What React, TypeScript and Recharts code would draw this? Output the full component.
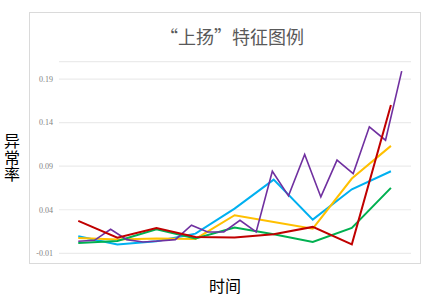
import { LineChart, Line, XAxis, YAxis, CartesianGrid } from 'recharts'

// time positions: four series share 9 points, the purple one has 21
const timeShort = [0, 29, 58, 87, 116, 145, 174, 203, 232]
const timeLong = [0, 12, 24, 36, 48, 60, 72, 84, 96, 108, 120, 132, 144, 156, 168, 180, 192, 204, 216, 228, 240]

const redValues = [0.0272, 0.008, 0.0191, 0.0088, 0.008, 0.0118, 0.0203, 0.0003, 0.1601]
const yellowValues = [0.0076, 0.0057, 0.0069, 0.0065, 0.0337, 0.026, 0.0183, 0.0758, 0.1133]
const blueValues = [0.0095, 0.0, 0.0038, 0.0126, 0.0413, 0.0746, 0.0287, 0.0635, 0.0842]
const greenValues = [0.0019, 0.0042, 0.0176, 0.0069, 0.0195, 0.0118, 0.003, 0.0191, 0.0651]
const purpleValues = [
  0.0038, 0.0049, 0.0176, 0.0057, 0.003, 0.0042, 0.0057, 0.0222, 0.0145, 0.0145, 0.0279,
  0.0145, 0.0842, 0.0559, 0.1034, 0.0547, 0.0969, 0.0815, 0.1352, 0.1198, 0.1991,
]

const yTicks = [-0.01, 0.04, 0.09, 0.14, 0.19]

const toPoints = (xs: number[], ys: number[]) => xs.map((x, i) => ({ x, v: ys[i] }))

const series = [
  { name: 'blue', color: '#00b0f0', width: 2, data: toPoints(timeShort, blueValues) },
  { name: 'yellow', color: '#ffc000', width: 2, data: toPoints(timeShort, yellowValues) },
  { name: 'green', color: '#00b050', width: 2, data: toPoints(timeShort, greenValues) },
  { name: 'purple', color: '#7030a0', width: 1.6, data: toPoints(timeLong, purpleValues) },
  { name: 'red', color: '#c00000', width: 2, data: toPoints(timeShort, redValues) },
]

const cjk = '"Noto Sans CJK SC", sans-serif'

export default function App() {
  return (
    <div style={{ position: 'absolute', left: 0, top: 0, width: 426, height: 299, background: '#fff' }}>
      {/* chart frame */}
      <div
        style={{
          position: 'absolute',
          left: 29,
          top: 12,
          width: 390,
          height: 250,
          border: '1.5px solid #dadada',
        }}
      />
      <div
        style={{
          position: 'absolute',
          left: 160,
          top: 23,
          whiteSpace: 'nowrap',
          fontFamily: cjk,
          fontSize: 18,
          color: '#595959',
          lineHeight: '26px',
        }}
      >
        “上扬”特征图例
      </div>
      <div style={{ position: 'absolute', left: 0, top: 0 }}>
        <LineChart
          width={426}
          height={299}
          margin={{ top: 61.6, right: 15, bottom: 45.7, left: 0 }}
        >
          <CartesianGrid vertical={false} stroke="#ebebeb" strokeWidth={1.2} />
          <XAxis type="number" dataKey="x" domain={[-14.3, 246.9]} hide allowDuplicatedCategory={false} />
          <YAxis
            type="number"
            width={59}
            domain={[-0.01, 0.21]}
            ticks={yTicks}
            tickLine={false}
            axisLine={false}
            tickMargin={0}
            tickFormatter={(v: number) => v.toFixed(2)}
            tick={{ fill: '#7f7f7f', fontSize: 8, fontFamily: '"Liberation Serif", serif' }}
          />
          {series.map(s => (
            <Line
              key={s.name}
              data={s.data}
              dataKey="v"
              type="linear"
              stroke={s.color}
              strokeWidth={s.width}
              dot={false}
              activeDot={false}
              isAnimationActive={false}
            />
          ))}
        </LineChart>
      </div>
      <div
        style={{
          position: 'absolute',
          left: 2,
          top: 133,
          writingMode: 'vertical-rl',
          fontFamily: cjk,
          fontSize: 16,
          letterSpacing: 0.5,
          lineHeight: '19px',
          color: '#000',
        }}
      >
        异常率
      </div>
      <div
        style={{
          position: 'absolute',
          left: 209,
          top: 274,
          whiteSpace: 'nowrap',
          fontFamily: cjk,
          fontSize: 16,
          color: '#000',
          lineHeight: '22px',
        }}
      >
        时间
      </div>
    </div>
  )
}
